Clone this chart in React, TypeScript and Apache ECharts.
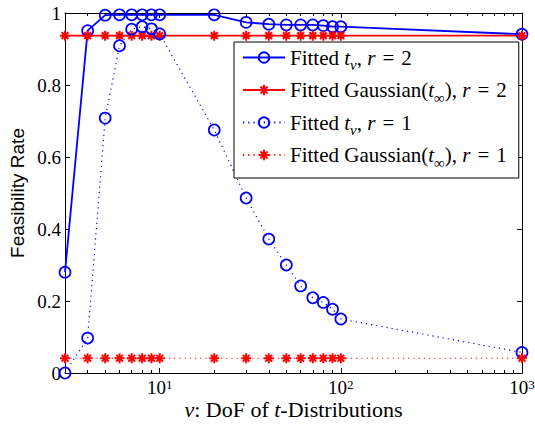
import React, { useEffect, useRef } from "react";
import * as echarts from "echarts";

const dof = [3, 4, 5, 6, 7, 8, 9, 10, 20, 30, 40, 50, 60, 70, 80, 90, 100, 1000];
const fittedTR2 = [0.28, 0.951, 0.994, 0.995, 0.995, 0.995, 0.995, 0.995, 0.995, 0.974, 0.969, 0.967, 0.967, 0.967, 0.965, 0.962, 0.962, 0.941];
const gaussR2 = [0.937, 0.937, 0.937, 0.937, 0.937, 0.937, 0.937, 0.937, 0.937, 0.937, 0.937, 0.937, 0.937, 0.937, 0.937, 0.937, 0.937, 0.937];
const fittedTR1 = [0.0, 0.097, 0.708, 0.909, 0.955, 0.962, 0.956, 0.942, 0.675, 0.486, 0.372, 0.3, 0.242, 0.209, 0.196, 0.177, 0.15, 0.057];
const gaussR1 = [0.041, 0.041, 0.041, 0.041, 0.041, 0.041, 0.041, 0.041, 0.041, 0.041, 0.041, 0.041, 0.041, 0.041, 0.041, 0.041, 0.041, 0.041];

const xMajorTicks = [10, 100, 1000];
const xMinorTicks = [4, 5, 6, 7, 8, 9, 20, 30, 40, 50, 60, 70, 80, 90, 200, 300, 400, 500, 600, 700, 800, 900];

const seriesNames = ["tnu_r2", "gauss_r2", "tnu_r1", "gauss_r1"];
const legendLabels: Record<string, string> = {
  tnu_r2: "Fitted {i|t}{sv|ν}, {i|r}\u2004=\u20042",
  gauss_r2: "Fitted Gaussian({i|t}{si|∞}), {i|r}\u2004=\u20042",
  tnu_r1: "Fitted {i|t}{sv|ν}, {i|r}\u2004=\u20041",
  gauss_r1: "Fitted Gaussian({i|t}{si|∞}), {i|r}\u2004=\u20041",
};
const xAxisTitle = "{i|ν}: DoF of {i|t}-Distributions";
const yAxisTitle = "Feasibility Rate";

const SERIF = "'Liberation Serif', 'Times New Roman', serif";
const SANS = "'Liberation Sans', Arial, sans-serif";
const BLUE = "#0000ff";
const RED = "#ff0000";
const STAR = "path://M5 0L5 10M0 5L10 5M1.6 1.6L8.4 8.4M1.6 8.4L8.4 1.6";

const pts = (ys: number[]) => dof.map((x, i) => [x, ys[i]]);

export default function App() {
  const ref = useRef<HTMLDivElement>(null);
  useEffect(() => {
    if (!ref.current) return;
    const chart = echarts.init(ref.current, null, { renderer: "svg" });
    const tickLine = { color: "#000", width: 1 };
    const axisLine = { show: true, onZero: false, lineStyle: { color: "#000", width: 1 } };
    const baseLog = { type: "log", logBase: 10, min: 3, max: 1000, splitLine: { show: false }, minorTick: { show: false } };
    const circleItem = { color: "rgba(0,0,0,0)", borderColor: BLUE, borderWidth: 1.7 };
    const starItem = { color: RED, borderColor: RED, borderWidth: 2 };
    chart.setOption({
      animation: false,
      backgroundColor: "#fff",
      grid: { left: 65, right: 13, top: 13, bottom: 52, containLabel: false, outerBoundsMode: "none" },
      legend: {
        show: true,
        data: seriesNames,
        orient: "vertical",
        left: 234,
        top: 42,
        selectedMode: false,
        backgroundColor: "#fff",
        borderColor: "#000",
        borderWidth: 1,
        borderRadius: 0,
        padding: [5, 12, 8, 8],
        itemGap: 7,
        itemWidth: 42,
        itemHeight: 13,
        formatter: (n: string) => legendLabels[n],
        textStyle: {
          color: "#000",
          fontFamily: SERIF,
          fontSize: 21,
          lineHeight: 20,
          rich: {
            i: { fontFamily: SERIF, fontSize: 21, fontStyle: "italic", color: "#000", lineHeight: 20 },
            sv: { fontFamily: SERIF, fontSize: 15, fontStyle: "italic", color: "#000", lineHeight: 14, verticalAlign: "top", padding: [10, 0, 0, 0] },
            si: { fontFamily: SERIF, fontSize: 15, color: "#000", lineHeight: 14, verticalAlign: "top", padding: [10, 0, 0, 0] },
          },
        },
      },
      xAxis: [
        {
          ...baseLog,
          position: "bottom",
          axisLine,
          axisTick: { show: true, inside: true, length: 5, customValues: xMajorTicks, lineStyle: tickLine },
          axisLabel: {
            show: true,
            customValues: xMajorTicks,
            margin: 5,
            formatter: (v: number) => `{b|10}{e|${Math.round(Math.log10(v))}}`,
            rich: {
              b: { fontFamily: SERIF, fontSize: 19, color: "#000", lineHeight: 19, verticalAlign: "bottom" },
              e: { fontFamily: SERIF, fontSize: 13, color: "#000", lineHeight: 13, verticalAlign: "top", padding: [0, 0, 13, 0] },
            },
          },
          name: xAxisTitle,
          nameLocation: "middle",
          nameGap: 25,
          nameMoveOverlap: false,
          nameTextStyle: {
            fontFamily: SERIF,
            fontSize: 22,
            color: "#000",
            rich: { i: { fontFamily: SERIF, fontSize: 22, fontStyle: "italic", color: "#000" } },
          },
        },
        {
          ...baseLog,
          position: "bottom",
          axisLine: { show: false, onZero: false },
          axisTick: { show: true, inside: true, length: 3, customValues: xMinorTicks, lineStyle: tickLine },
          axisLabel: { show: false },
        },
        {
          ...baseLog,
          position: "top",
          axisLine,
          axisTick: { show: true, inside: true, length: 5, customValues: xMajorTicks, lineStyle: tickLine },
          axisLabel: { show: false },
        },
        {
          ...baseLog,
          position: "top",
          axisLine: { show: false, onZero: false },
          axisTick: { show: true, inside: true, length: 3, customValues: xMinorTicks, lineStyle: tickLine },
          axisLabel: { show: false },
        },
      ],
      yAxis: [
        {
          type: "value",
          min: 0,
          max: 1,
          interval: 0.2,
          position: "left",
          axisLine,
          axisTick: { show: true, inside: true, length: 5, lineStyle: tickLine },
          axisLabel: { show: true, margin: 4, fontFamily: SERIF, fontSize: 19, color: "#000" },
          splitLine: { show: false },
          name: yAxisTitle,
          nameLocation: "middle",
          nameGap: 38,
          nameMoveOverlap: false,
          nameTextStyle: { fontFamily: SANS, fontSize: 19, color: "#000" },
        },
        {
          type: "value",
          min: 0,
          max: 1,
          interval: 0.2,
          position: "right",
          axisLine,
          axisTick: { show: true, inside: true, length: 5, lineStyle: tickLine },
          axisLabel: { show: false },
          splitLine: { show: false },
        },
      ],
      series: [
        {
          name: seriesNames[0],
          type: "line",
          data: pts(fittedTR2),
          clip: false,
          symbol: "circle",
          symbolSize: 11,
          lineStyle: { color: BLUE, width: 1.8, type: "solid" },
          itemStyle: circleItem,
        },
        {
          name: seriesNames[1],
          type: "line",
          data: pts(gaussR2),
          clip: false,
          symbol: STAR,
          symbolSize: 10,
          lineStyle: { color: RED, width: 1.8, type: "solid" },
          itemStyle: starItem,
        },
        {
          name: seriesNames[2],
          type: "line",
          data: pts(fittedTR1),
          clip: false,
          symbol: "circle",
          symbolSize: 11,
          lineStyle: { color: BLUE, width: 1.2, type: [1.2, 4] },
          itemStyle: circleItem,
        },
        {
          name: seriesNames[3],
          type: "line",
          data: pts(gaussR1),
          clip: false,
          symbol: STAR,
          symbolSize: 10,
          lineStyle: { color: RED, width: 1.2, type: [1.2, 4] },
          itemStyle: starItem,
        },
      ],
    });
    return () => chart.dispose();
  }, []);
  return <div ref={ref} style={{ position: "fixed", left: 0, top: 0, width: 535, height: 425 }} />;
}
